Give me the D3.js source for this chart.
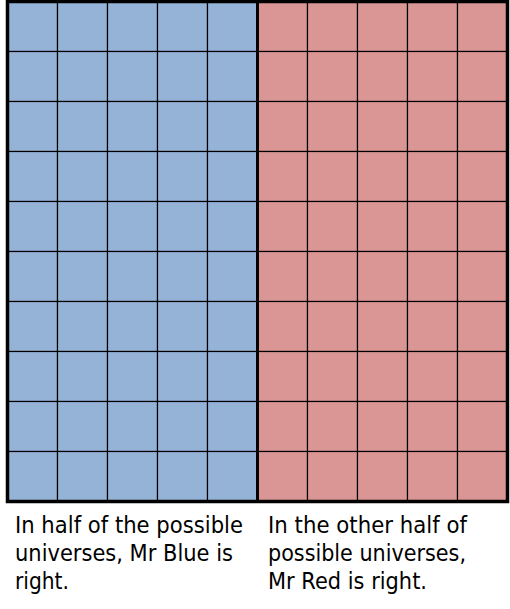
<!DOCTYPE html>
<html><head><meta charset="utf-8">
<script src="https://cdn.jsdelivr.net/npm/d3@7"></script>
<style>html,body{margin:0;padding:0;background:#fff;}svg{display:block;}</style>
</head><body>
<script>
const columns = [1,2,3,4,5,6,7,8,9,10];
const rows = [1,2,3,4,5,6,7,8,9,10];
const columnOwner = ["Blue","Blue","Blue","Blue","Blue","Red","Red","Red","Red","Red"];
const captionBlue = ["In half of the possible","universes, Mr Blue is","right."];
const captionRed = ["In the other half of","possible universes,","Mr Red is right."];

const W = 510, H = 609;
const svg = d3.select("body").append("svg").attr("width", W).attr("height", H);
const x = d3.scaleBand().domain(columns).range([7.5, 507.5]);
const y = d3.scaleBand().domain(rows).range([1.5, 501.5]);
const color = d3.scaleOrdinal().domain(["Blue","Red"]).range(["#95b3d7","#d99694"]);

const cells = [];
columns.forEach((c,i) => rows.forEach(r => cells.push({c, r, owner: columnOwner[i]})));

svg.append("g").selectAll("rect").data(cells).join("rect")
  .attr("x", d => x(d.c)).attr("y", d => y(d.r))
  .attr("width", x.bandwidth()).attr("height", y.bandwidth())
  .attr("fill", d => color(d.owner))
  .attr("stroke", "#000").attr("stroke-width", 1.2);

// divider between the two halves
const firstRed = columns[columnOwner.indexOf("Red")];
svg.append("line")
  .attr("x1", x(firstRed)).attr("x2", x(firstRed))
  .attr("y1", y.range()[0]).attr("y2", y.range()[1])
  .attr("stroke", "#000").attr("stroke-width", 3);

svg.append("rect")
  .attr("x", x.range()[0]).attr("y", y.range()[0])
  .attr("width", x.range()[1]-x.range()[0]).attr("height", y.range()[1]-y.range()[0])
  .attr("fill", "none").attr("stroke", "#000").attr("stroke-width", 3.5);

const widthsBlue = [228, 218, 54];
const widthsRed = [199, 198, 159];
function caption(lines, widths, x0) {
  const g = svg.append("g");
  lines.forEach((t,i) => {
    g.append("text").attr("x", x0).attr("y", 533 + i*28)
      .attr("font-family", "Tahoma, 'DejaVu Sans', sans-serif")
      .attr("font-size", 22.5).attr("fill", "#000")
      .attr("textLength", widths[i]).attr("lengthAdjust", "spacingAndGlyphs")
      .text(t);
  });
}
caption(captionBlue, widthsBlue, 15);
caption(captionRed, widthsRed, 268);
</script>
</body></html>
